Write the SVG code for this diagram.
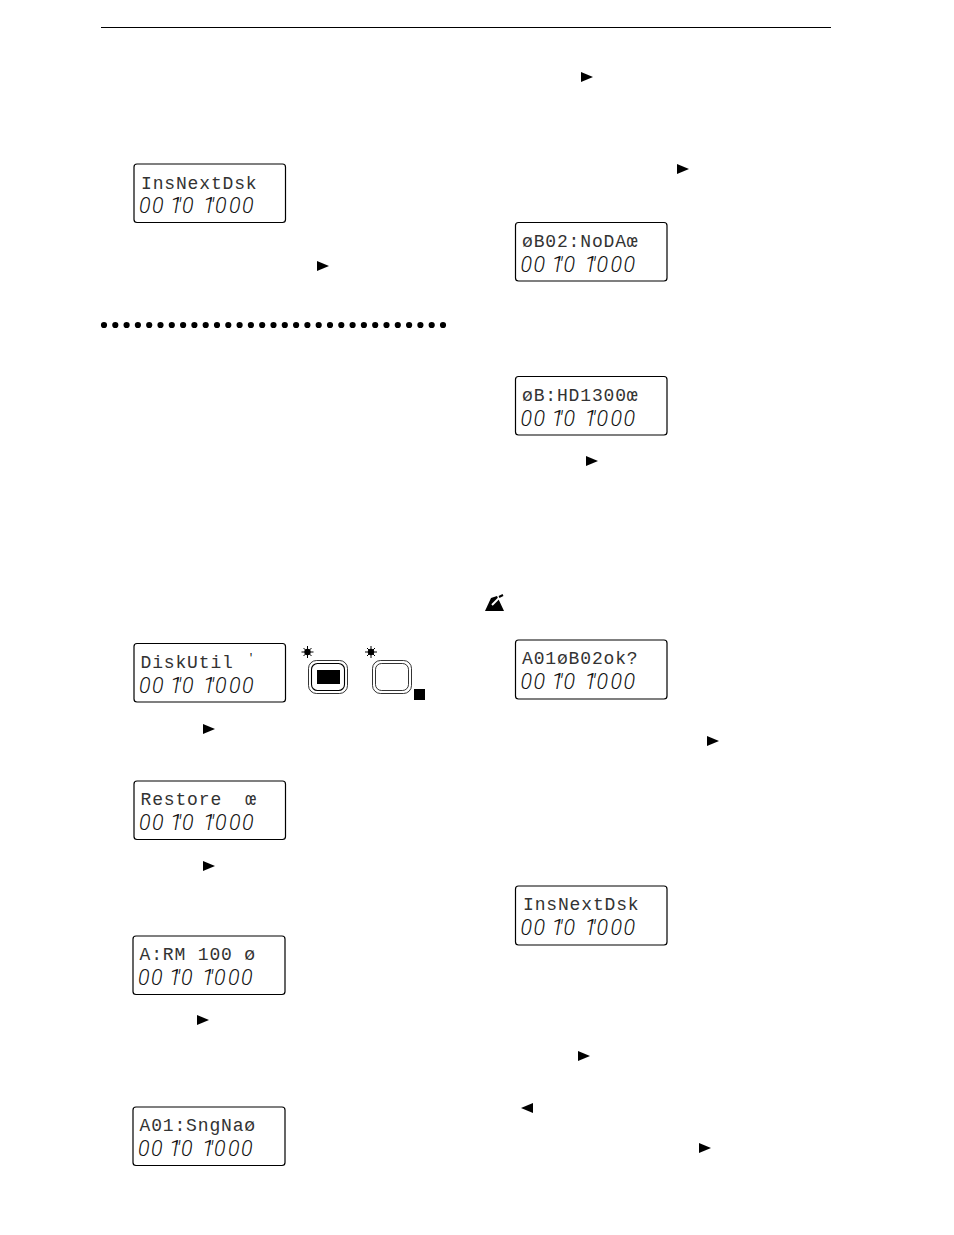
<svg xmlns="http://www.w3.org/2000/svg" width="954" height="1235" viewBox="0 0 954 1235">
<style>
.f{fill:#fff;stroke:#000;stroke-width:1.2}
.t{font-family:"Liberation Mono",monospace;font-size:18px;letter-spacing:.85px;fill:#333;white-space:pre}
.d{font-family:Roboto,"Liberation Sans",sans-serif;font-style:italic;font-weight:300;font-size:21.5px;fill:#111}
.b{fill:#fff;stroke:#000;stroke-width:.8}
</style>
<defs>
<polygon id="r" points="0,-5 12,0 0,5" fill="#000"/>
<polygon id="l" points="12,-5 0,0 12,5" fill="#000"/>
<g id="s" stroke="#000" stroke-width="1"><circle r="3.200" fill="#000" stroke="none"/><path d="M-6,0H6M0,-6V6M-4,-4L4,4M-4,4L4,-4"/></g>
</defs>
<rect width="954" height="1235" fill="#fff"/>
<line x1="101" y1="27.500" x2="831" y2="27.500" stroke="#000" stroke-width="1"/>
<line id="dots" x1="104" y1="325" x2="444" y2="325" stroke="#000" stroke-width="6.200" stroke-linecap="round" stroke-dasharray="0 11.300"/>
<g id="arrows">
<use href="#r" x="581" y="77"/><use href="#r" x="677" y="169"/><use href="#r" x="317" y="266"/><use href="#r" x="586" y="461"/>
<use href="#r" x="203" y="729"/><use href="#r" x="203" y="866"/><use href="#r" x="197" y="1020"/><use href="#r" x="707" y="741"/>
<use href="#r" x="578" y="1056"/><use href="#l" x="521" y="1108"/><use href="#r" x="699" y="1148"/>
</g>
<g id="lcd1"><rect class="f" x="134" y="164" width="151.500" height="58.500" rx="3"/><text class="t" x="141" y="188.500">InsNextDsk</text><text class="d" y="213" x="139 152 164 170 175 182 194 203 208 215 229 242">00 1"0 1"000</text></g>
<g id="lcd2"><rect class="f" x="515.500" y="222.500" width="151.500" height="58.500" rx="3"/><text class="t" x="522" y="246.500">øB02:NoDAœ</text><text class="d" y="271.500" x="520.500 533.500 545.500 551.500 556.500 563.500 575.500 584.500 589.500 596.500 610.500 623.500">00 1"0 1"000</text></g>
<g id="lcd3"><rect class="f" x="515.500" y="376.500" width="151.500" height="58.500" rx="3"/><text class="t" x="522" y="400.500">øB:HD1300œ</text><text class="d" y="425.500" x="520.500 533.500 545.500 551.500 556.500 563.500 575.500 584.500 589.500 596.500 610.500 623.500">00 1"0 1"000</text></g>
<g id="lcd4"><rect class="f" x="134" y="643.500" width="151.500" height="58.500" rx="3"/><text class="t" x="140.500" y="667.500">DiskUtil</text><text class="t" x="248" y="661" style="font-size:10px;fill:#000">'</text><text class="d" y="692.500" x="139 152 164 170 175 182 194 203 208 215 229 242">00 1"0 1"000</text></g>
<g id="button1"><use href="#s" x="307.500" y="652"/><rect class="b" x="308.500" y="660.500" width="39" height="33" rx="8"/><rect x="311.500" y="663.500" width="33" height="27" rx="6" fill="#fff" stroke="#000" stroke-width="1.100"/><rect x="317" y="670" width="23" height="14" fill="#000"/></g>
<g id="button2"><use href="#s" x="371" y="652"/><rect class="b" x="372.500" y="660.500" width="39" height="33" rx="8"/><rect class="b" x="375.500" y="663.500" width="33" height="27" rx="6"/><rect x="414" y="689" width="11" height="11" fill="#000"/></g>
<g id="lcd5"><rect class="f" x="134" y="781" width="151.500" height="58.500" rx="3"/><text class="t" x="140.500" y="805">Restore  œ</text><text class="d" y="830" x="139 152 164 170 175 182 194 203 208 215 229 242">00 1"0 1"000</text></g>
<g id="lcd6"><rect class="f" x="133" y="936" width="152" height="58.500" rx="3"/><text class="t" x="139.500" y="960">A:RM 100 ø</text><text class="d" y="985" x="138 151 163 169 174 181 193 202 207 214 228 241">00 1"0 1"000</text></g>
<g id="lcd7"><rect class="f" x="133" y="1107" width="152" height="58.500" rx="3"/><text class="t" x="139.500" y="1131">A01:SngNaø</text><text class="d" y="1156" x="138 151 163 169 174 181 193 202 207 214 228 241">00 1"0 1"000</text></g>
<g id="note"><polygon points="485,611 491,598 497,596 504,611" fill="#000"/><line x1="492" y1="605" x2="504" y2="593" stroke="#fff" stroke-width="2"/><line x1="499" y1="597" x2="503" y2="595" stroke="#000" stroke-width="2"/></g>
<g id="lcd8"><rect class="f" x="515.500" y="640" width="151.500" height="59" rx="3"/><text class="t" x="522" y="664">A01øB02ok?</text><text class="d" y="689" x="520.500 533.500 545.500 551.500 556.500 563.500 575.500 584.500 589.500 596.500 610.500 623.500">00 1"0 1"000</text></g>
<g id="lcd9"><rect class="f" x="515.500" y="886" width="151.500" height="59" rx="3"/><text class="t" x="523" y="910">InsNextDsk</text><text class="d" y="935" x="520.500 533.500 545.500 551.500 556.500 563.500 575.500 584.500 589.500 596.500 610.500 623.500">00 1"0 1"000</text></g>
</svg>
